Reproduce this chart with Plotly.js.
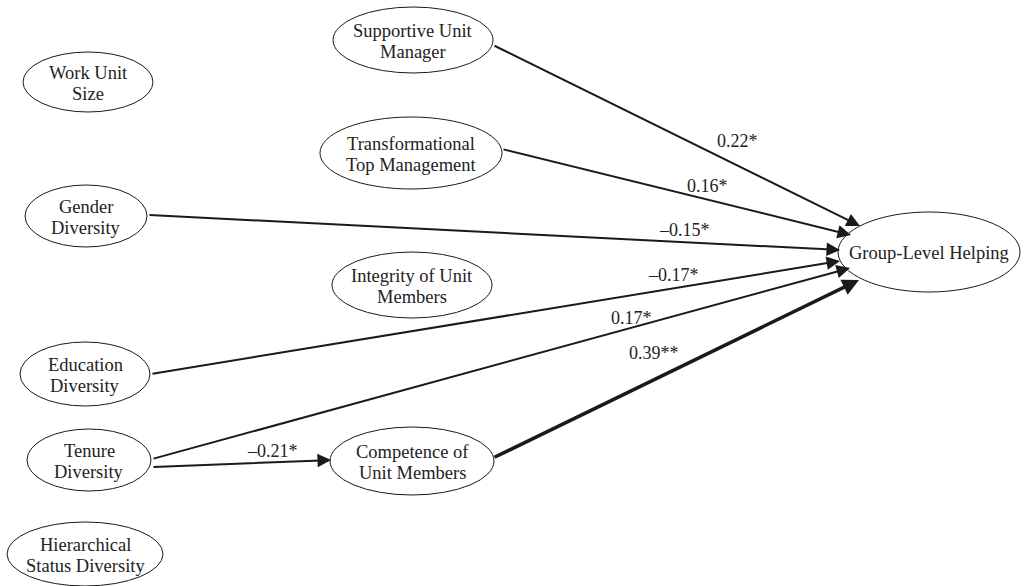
<!DOCTYPE html>
<html>
<head>
<meta charset="utf-8">
<script src="https://cdn.plot.ly/plotly-3.0.1.min.js"></script>
<style>html,body{margin:0;padding:0;background:#fff;}#chart{width:1028px;height:586px;}</style>
</head>
<body>
<div id="chart"></div>
<script>
// ---- data ----
const nodeNames = [
  "Work Unit<br>Size",
  "Supportive Unit<br>Manager",
  "Transformational<br>Top Management",
  "Gender<br>Diversity",
  "Integrity of Unit<br>Members",
  "Education<br>Diversity",
  "Tenure<br>Diversity",
  "Competence of<br>Unit Members",
  "Hierarchical<br>Status Diversity",
  "Group-Level Helping"
];
const pathFrom = [1, 2, 3, 5, 6, 6, 7];
const pathTo   = [9, 9, 9, 9, 9, 7, 9];
const pathCoef = ["0.22*", "0.16*", "\u20130.15*", "\u20130.17*", "0.17*", "\u20130.21*", "0.39**"];

// ---- layout geometry (pixels) ----
const nodeGeom = [ // cx, cy, rx, ry
  [88, 82, 65, 30],
  [413, 40, 80, 33],
  [411, 153, 91, 36],
  [86, 216, 61, 31],
  [412, 285, 80, 33],
  [85, 374, 65, 32],
  [89, 460, 62, 31],
  [412, 461, 82, 34],
  [85, 554, 78, 32],
  [929, 252, 91, 40]
];
const pathGeom = [ // x0, y0, x1, y1, labelX, labelY, width
  [493, 45, 860, 226, 737, 141, 2],
  [502, 149, 851, 235, 707, 186, 2],
  [148, 215, 840, 250, 684, 230, 2],
  [151, 374, 840, 261, 673, 275, 2],
  [152, 459, 850, 268, 631, 318, 2],
  [152, 467, 331, 460, 272, 451, 2],
  [493, 458, 859, 280, 654, 353, 3.5]
];

const FONT = "'Liberation Serif', 'Times New Roman', Times, serif";
const LINE_GAP = 21;
const shapes = [];
const annotations = [];

nodeNames.forEach((name, i) => {
  const [cx, cy, rx, ry] = nodeGeom[i];
  shapes.push({type: "circle", xref: "x", yref: "y", x0: cx - rx, x1: cx + rx, y0: cy - ry, y1: cy + ry,
    line: {color: "#1a1a1a", width: 1}, fillcolor: "rgba(0,0,0,0)"});
  const lines = name.split("<br>");
  lines.forEach((ln, k) => {
    const off = (k - (lines.length - 1) / 2) * LINE_GAP;
    annotations.push({x: cx, y: cy + 1 + off, xref: "x", yref: "y", text: ln, showarrow: false,
      font: {family: FONT, size: 18.5, color: "#222"}, align: "center", yanchor: "middle"});
  });
});

pathFrom.forEach((f, i) => {
  const [x0, y0, x1, y1, lx, ly, w] = pathGeom[i];
  annotations.push({x: x1, y: y1, ax: x0, ay: y0, xref: "x", yref: "y", axref: "x", ayref: "y",
    text: "", showarrow: true, arrowhead: 2, arrowsize: w > 2 ? 0.95 : 1.35, arrowwidth: w, arrowcolor: "#1a1a1a"});
  annotations.push({x: lx, y: ly, xref: "x", yref: "y", text: pathCoef[i], showarrow: false,
    font: {family: FONT, size: 18, color: "#222"}});
});

const layout = {
  width: 1028, height: 586,
  margin: {l: 0, r: 0, t: 0, b: 0},
  paper_bgcolor: "#fff", plot_bgcolor: "#fff",
  xaxis: {range: [0, 1028], visible: false, fixedrange: true},
  yaxis: {range: [586, 0], visible: false, fixedrange: true},
  shapes: shapes,
  annotations: annotations,
  showlegend: false
};
Plotly.newPlot("chart", [], layout, {staticPlot: true});
</script>
</body>
</html>
